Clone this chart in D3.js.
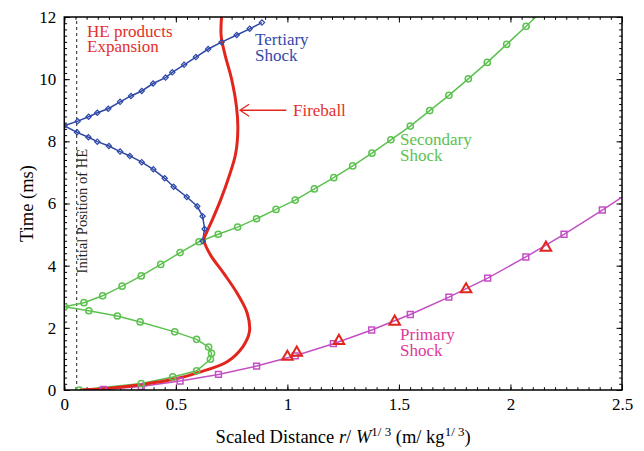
<!DOCTYPE html>
<html>
<head>
<meta charset="utf-8">
<script src="https://cdn.jsdelivr.net/npm/d3@7"></script>
<style>
  html, body { margin: 0; padding: 0; background: #fff; }
  svg { display: block; font-family: "Liberation Serif", "Times New Roman", serif; }
</style>
</head>
<body>
<div id="chart"></div>
<script>
const width = 644;
const height = 451;

// --- data (scaled distance r/W^1/3, time ms) ---
const primaryR = [0.175, 0.345, 0.519, 0.691, 0.862, 1.035, 1.206, 1.378, 1.551, 1.724, 1.898, 2.069, 2.24, 2.412, 2.584];
const primaryT = [0.02, 0.11, 0.29, 0.5, 0.77, 1.1, 1.49, 1.93, 2.43, 2.99, 3.6, 4.28, 5.01, 5.79, 6.6];

const secondaryR = [0.067, 0.345, 0.486, 0.593, 0.655, 0.66, 0.647, 0.593, 0.495, 0.34, 0.238, 0.11, 0.0,
  0.088, 0.172, 0.259, 0.345, 0.432, 0.519, 0.604, 0.69, 0.777, 0.862, 0.949, 1.035, 1.121, 1.208, 1.293,
  1.379, 1.464, 1.551, 1.638, 1.724, 1.811, 1.896, 1.983, 2.07, 2.157];
const secondaryT = [0.0, 0.21, 0.42, 0.62, 0.99, 1.18, 1.38, 1.63, 1.87, 2.19, 2.38, 2.55, 2.68,
  2.81, 3.03, 3.34, 3.67, 4.04, 4.42, 4.77, 5.01, 5.24, 5.51, 5.81, 6.11, 6.47, 6.83, 7.21,
  7.62, 8.05, 8.49, 8.99, 9.48, 10.01, 10.54, 11.12, 11.7, 12.3];

const tertiaryR = [0.62, 0.629, 0.62, 0.596, 0.549, 0.49, 0.45, 0.399, 0.347, 0.294, 0.25, 0.2, 0.148, 0.108, 0.057, 0.0,
  0.06, 0.109, 0.148, 0.197, 0.25, 0.299, 0.347, 0.398, 0.454, 0.484, 0.537, 0.59, 0.645, 0.705, 0.773, 0.831, 0.886];
const tertiaryT = [4.79, 5.18, 5.59, 5.91, 6.21, 6.54, 6.81, 7.1, 7.33, 7.53, 7.67, 7.85, 7.99, 8.13, 8.29, 8.5,
  8.65, 8.79, 8.92, 9.05, 9.27, 9.46, 9.62, 9.86, 10.05, 10.22, 10.46, 10.71, 10.97, 11.19, 11.42, 11.62, 11.82];

const fireballR = [0.07, 0.2, 0.35, 0.5, 0.6, 0.73, 0.8, 0.83, 0.82, 0.775, 0.715, 0.66, 0.632, 0.626, 0.64, 0.665,
  0.7, 0.74, 0.768, 0.778, 0.772, 0.75, 0.72, 0.703, 0.705];
const fireballT = [0.0, 0.06, 0.18, 0.36, 0.56, 0.91, 1.39, 1.88, 2.47, 3.11, 3.75, 4.29, 4.67, 4.85, 5.1, 5.5,
  6.1, 6.9, 7.6, 8.4, 9.1, 10.0, 10.8, 11.4, 12.0];

const expR = [1.0, 1.042, 1.231, 1.481, 1.801, 2.159];
const expT = [1.07, 1.2, 1.58, 2.2, 3.24, 4.58];

const xTicks = [0, 0.5, 1, 1.5, 2, 2.5];
const yTicks = [0, 2, 4, 6, 8, 10, 12];
const heR = 0.0556; // initial position of HE

const zip = (a, b) => a.map((v, i) => [v, b[i]]);

const svg = d3.select("#chart").append("svg")
  .attr("width", width)
  .attr("height", height)
  .attr("viewBox", `0 0 ${width} ${height}`);

svg.append("rect").attr("width", width).attr("height", height).attr("fill", "#fff");

const x = d3.scaleLinear().domain([0, 2.5]).range([64.3, 622]);
const y = d3.scaleLinear().domain([0, 12]).range([390, 17]);
const [x0, x1] = x.range();
const [y0, y1] = y.range();

svg.append("clipPath").attr("id", "plot")
  .append("rect").attr("x", x0).attr("y", y1).attr("width", x1 - x0).attr("height", y0 - y1);

// --- axes, ticks inside on all four sides ---
const minorX = d3.range(0, 2.5001, 0.05).map((d) => +d.toFixed(2));
const minorY = d3.range(0, 12.001, 0.2).map((d) => +d.toFixed(1));

function styleAxis(g) {
  g.select(".domain").remove();
  g.selectAll("line").attr("stroke", "#000").attr("stroke-width", 1);
  g.selectAll("text").attr("fill", "#000").style("font-size", "17px")
    .style("font-family", "'Liberation Serif', 'Times New Roman', serif");
}

svg.append("g").attr("transform", `translate(0,${y0})`)
  .call(d3.axisBottom(x).tickValues(minorX).tickSize(-2.8).tickFormat(""))
  .call(styleAxis);
svg.append("g").attr("transform", `translate(0,${y0})`)
  .call(d3.axisBottom(x).tickValues(xTicks).tickSize(-5.5).tickPadding(8).tickFormat((d) => String(d)))
  .call(styleAxis);
svg.append("g").attr("transform", `translate(0,${y1})`)
  .call(d3.axisTop(x).tickValues(minorX).tickSize(-2.8).tickFormat(""))
  .call(styleAxis);
svg.append("g").attr("transform", `translate(0,${y1})`)
  .call(d3.axisTop(x).tickValues(xTicks).tickSize(-5.5).tickFormat(""))
  .call(styleAxis);

svg.append("g").attr("transform", `translate(${x0},0)`)
  .call(d3.axisLeft(y).tickValues(minorY).tickSize(-2.8).tickFormat(""))
  .call(styleAxis);
svg.append("g").attr("transform", `translate(${x0},0)`)
  .call(d3.axisLeft(y).tickValues(yTicks).tickSize(-5.5).tickPadding(8).tickFormat((d) => String(d)))
  .call(styleAxis);
svg.append("g").attr("transform", `translate(${x1},0)`)
  .call(d3.axisRight(y).tickValues(minorY).tickSize(-2.8).tickFormat(""))
  .call(styleAxis);
svg.append("g").attr("transform", `translate(${x1},0)`)
  .call(d3.axisRight(y).tickValues(yTicks).tickSize(-5.5).tickFormat(""))
  .call(styleAxis);

// initial position of HE
svg.append("line")
  .attr("x1", x(heR)).attr("x2", x(heR))
  .attr("y1", y0).attr("y2", y1)
  .attr("stroke", "#222").attr("stroke-width", 1)
  .attr("stroke-dasharray", "3,3");

svg.append("text")
  .attr("transform", `translate(${x(heR) + 10.5},${y(3.75)}) rotate(-90)`)
  .style("font-size", "14.5px")
  .attr("fill", "#222")
  .text("Initial Position of HE");

// --- series ---
const plot = svg.append("g").attr("clip-path", "url(#plot)");
const line = d3.line().x((d) => x(d[0])).y((d) => y(d[1]));

const series = [
  { pts: zip(primaryR, primaryT), color: "#c24fc4", symbol: d3.symbolSquare, size: 34, rot: 0 },
  { pts: zip(secondaryR, secondaryT), color: "#5cc24f", symbol: d3.symbolCircle, size: 30, rot: 0 },
  { pts: zip(tertiaryR, tertiaryT), color: "#2f48a8", symbol: d3.symbolSquare, size: 14, rot: 45 }
];

series.forEach((s) => {
  plot.append("path")
    .datum(s.pts)
    .attr("fill", "none")
    .attr("stroke", s.color)
    .attr("stroke-width", 1.5)
    .attr("d", line);
});

// fireball
plot.append("path")
  .datum(zip(fireballR, fireballT))
  .attr("fill", "none")
  .attr("stroke", "#e3261d")
  .attr("stroke-width", 3)
  .attr("stroke-linejoin", "round")
  .attr("d", line.curve(d3.curveCatmullRom.alpha(0.5)));

series.forEach((s) => {
  plot.append("g").selectAll("path")
    .data(s.pts)
    .join("path")
    .attr("transform", (d) => `translate(${x(d[0])},${y(d[1])}) rotate(${s.rot})`)
    .attr("d", d3.symbol(s.symbol, s.size))
    .attr("fill", "none")
    .attr("stroke", s.color)
    .attr("stroke-width", s.rot ? 1.2 : 1.5);
});

// experimental points
plot.append("g").selectAll("path")
  .data(zip(expR, expT))
  .join("path")
  .attr("transform", (d) => `translate(${x(d[0])},${y(d[1])})`)
  .attr("d", d3.symbol(d3.symbolTriangle, 48))
  .attr("fill", "none")
  .attr("stroke", "#e3261d")
  .attr("stroke-width", 2);

// frame
svg.append("rect")
  .attr("x", x0).attr("y", y1)
  .attr("width", x1 - x0).attr("height", y0 - y1)
  .attr("fill", "none").attr("stroke", "#000").attr("stroke-width", 1.5);

// --- annotations ---
function label(r, t, lines, color) {
  const txt = svg.append("text")
    .attr("x", x(r)).attr("y", y(t))
    .attr("fill", color)
    .style("font-size", "17px");
  lines.forEach((l, i) => {
    txt.append("tspan").attr("x", x(r)).attr("dy", i ? 15.6 : 0).text(l);
  });
}

label(0.102, 11.37, ["HE products", "Expansion"], "#e3302a");
label(0.855, 11.1, ["Tertiary", "Shock"], "#3548a8");
label(1.025, 8.8, ["Fireball"], "#e3302a");
label(1.505, 7.88, ["Secondary", "Shock"], "#5cc24f");
label(1.505, 1.61, ["Primary", "Shock"], "#dc3a98");

// fireball arrow
const tipX = x(0.788), tipY = y(9.0);
svg.append("line")
  .attr("x1", tipX).attr("x2", x(0.995))
  .attr("y1", tipY).attr("y2", tipY)
  .attr("stroke", "#e3261d").attr("stroke-width", 1.3);
svg.append("path")
  .attr("d", `M${tipX + 9},${tipY - 6}L${tipX},${tipY}L${tipX + 9},${tipY + 6}`)
  .attr("fill", "none").attr("stroke", "#e3261d").attr("stroke-width", 1.3);

// axis titles
const xTitle = svg.append("text")
  .attr("x", (x0 + x1) / 2)
  .attr("y", 442.5)
  .attr("text-anchor", "middle")
  .attr("fill", "#000")
  .style("font-size", "18.5px");
xTitle.append("tspan").text("Scaled Distance ");
xTitle.append("tspan").style("font-style", "italic").text("r");
xTitle.append("tspan").text("/ ");
xTitle.append("tspan").style("font-style", "italic").text("W");
xTitle.append("tspan").attr("dy", -7).style("font-size", "13px").text("1/ 3");
xTitle.append("tspan").attr("dy", 7).text(" (m/ kg");
xTitle.append("tspan").attr("dy", -7).style("font-size", "13px").text("1/ 3");
xTitle.append("tspan").attr("dy", 7).text(")");

svg.append("text")
  .attr("transform", `translate(33,${(y0 + y1) / 2}) rotate(-90)`)
  .attr("text-anchor", "middle")
  .attr("fill", "#000")
  .style("font-size", "18.5px")
  .text("Time (ms)");
</script>
</body>
</html>
